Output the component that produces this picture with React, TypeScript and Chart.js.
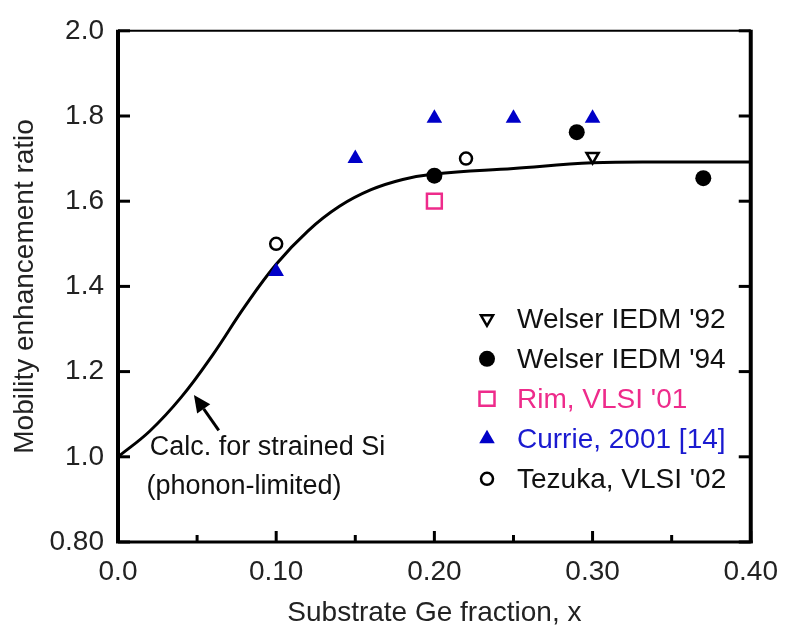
import React, { useEffect, useRef } from 'react';
import { Chart, registerables } from 'chart.js';

Chart.register(...registerables);

const FONT = "'Liberation Sans', Arial, Helvetica, sans-serif";

// Calculated curve (strained Si, phonon-limited)
const curveX = [0, 0.02, 0.04, 0.06, 0.08, 0.1, 0.12, 0.14, 0.16, 0.18, 0.2, 0.25, 0.3, 0.35, 0.4];
const curveY = [1.0, 1.06, 1.14, 1.24, 1.352, 1.452, 1.53, 1.588, 1.627, 1.651, 1.664, 1.677, 1.69, 1.692, 1.692];

// Experimental data
const welser92X = [0.3];
const welser92Y = [1.705];
const welser94X = [0.2, 0.29, 0.37];
const welser94Y = [1.66, 1.762, 1.654];
const rimX = [0.2];
const rimY = [1.6];
const currieX = [0.1, 0.15, 0.2, 0.25, 0.3];
const currieY = [1.435, 1.7, 1.795, 1.795, 1.795];
const tezukaX = [0.1, 0.22];
const tezukaY = [1.5, 1.7];

// Axis ticks
const xMajorTicks = [0, 0.1, 0.2, 0.3, 0.4];
const xMinorTicks = [0.05, 0.15, 0.25, 0.35];
const yMajorTicks = [0.8, 1.0, 1.2, 1.4, 1.6, 1.8, 2.0];

const legendLabels = ["Welser IEDM '92", "Welser IEDM '94", "Rim, VLSI '01", 'Currie, 2001 [14]', "Tezuka, VLSI '02"];
const legendColors = ['#111111', '#111111', '#ee2b8b', '#1a1ad0', '#111111'];

const PINK = '#ee2b8b';
const BLUE = '#0000c8';

const pts = (xs: number[], ys: number[]) => xs.map((x, i) => ({ x, y: ys[i] }));

function drawSymbol(ctx: CanvasRenderingContext2D, kind: number, x: number, y: number) {
  ctx.save();
  ctx.lineWidth = 2.5;
  if (kind === 0) {
    const r = 7;
    ctx.beginPath();
    ctx.moveTo(x, y + r);
    ctx.lineTo(x - r * 0.866, y - r / 2);
    ctx.lineTo(x + r * 0.866, y - r / 2);
    ctx.closePath();
    ctx.fillStyle = '#fff';
    ctx.fill();
    ctx.strokeStyle = '#000';
    ctx.stroke();
  } else if (kind === 1) {
    ctx.beginPath();
    ctx.arc(x, y, 8, 0, Math.PI * 2);
    ctx.fillStyle = '#000';
    ctx.fill();
  } else if (kind === 2) {
    ctx.strokeStyle = PINK;
    ctx.fillStyle = '#fff';
    ctx.beginPath();
    ctx.rect(x - 7.5, y - 7, 15, 14);
    ctx.fill();
    ctx.stroke();
  } else if (kind === 3) {
    const r = 9;
    ctx.beginPath();
    ctx.moveTo(x, y - r);
    ctx.lineTo(x - r * 0.866, y + r / 2);
    ctx.lineTo(x + r * 0.866, y + r / 2);
    ctx.closePath();
    ctx.fillStyle = BLUE;
    ctx.fill();
  } else {
    ctx.beginPath();
    ctx.arc(x, y, 6, 0, Math.PI * 2);
    ctx.fillStyle = '#fff';
    ctx.fill();
    ctx.strokeStyle = '#000';
    ctx.stroke();
  }
  ctx.restore();
}

export default function App() {
  const ref = useRef<HTMLCanvasElement>(null);

  useEffect(() => {
    const canvas = ref.current;
    if (!canvas) return;

    const framePlugin = {
      id: 'framePlugin',
      afterDatasetsDraw(chart: any) {
        const { ctx, chartArea } = chart;
        const { left, right, top, bottom } = chartArea;
        const xs = chart.scales.x;
        const ys = chart.scales.y;
        ctx.save();
        ctx.strokeStyle = '#000';
        ctx.lineCap = 'butt';
        // frame
        ctx.lineWidth = 2;
        ctx.beginPath();
        ctx.moveTo(left, top);
        ctx.lineTo(right, top);
        ctx.stroke();
        ctx.lineWidth = 3;
        ctx.beginPath();
        ctx.moveTo(left - 2, bottom);
        ctx.lineTo(right + 2, bottom);
        ctx.stroke();
        ctx.lineWidth = 4;
        ctx.beginPath();
        ctx.moveTo(left, top - 1);
        ctx.lineTo(left, bottom + 1);
        ctx.stroke();
        ctx.beginPath();
        ctx.moveTo(right, top - 1);
        ctx.lineTo(right, bottom + 1);
        ctx.stroke();
        // ticks
        ctx.lineWidth = 3;
        xMajorTicks.forEach((v) => {
          const px = xs.getPixelForValue(v);
          ctx.beginPath();
          ctx.moveTo(px, bottom);
          ctx.lineTo(px, bottom - 11);
          ctx.stroke();
        });
        xMinorTicks.forEach((v) => {
          const px = xs.getPixelForValue(v);
          ctx.beginPath();
          ctx.moveTo(px, bottom);
          ctx.lineTo(px, bottom - 7);
          ctx.stroke();
        });
        yMajorTicks.forEach((v) => {
          const py = ys.getPixelForValue(v);
          ctx.beginPath();
          ctx.moveTo(left, py);
          ctx.lineTo(left + 12, py);
          ctx.stroke();
          ctx.beginPath();
          ctx.moveTo(right, py);
          ctx.lineTo(right - 12, py);
          ctx.stroke();
        });

        // annotation arrow
        const tipX = xs.getPixelForValue(0.048);
        const tipY = ys.getPixelForValue(1.145);
        const tailX = xs.getPixelForValue(0.0637);
        const tailY = ys.getPixelForValue(1.062);
        const ang = Math.atan2(tipY - tailY, tipX - tailX);
        const headLen = 17;
        const headW = 8;
        const baseX = tipX - headLen * Math.cos(ang);
        const baseY = tipY - headLen * Math.sin(ang);
        ctx.lineWidth = 3;
        ctx.beginPath();
        ctx.moveTo(tailX, tailY);
        ctx.lineTo(baseX, baseY);
        ctx.stroke();
        ctx.fillStyle = '#000';
        ctx.beginPath();
        ctx.moveTo(tipX, tipY);
        ctx.lineTo(baseX + headW * Math.sin(ang), baseY - headW * Math.cos(ang));
        ctx.lineTo(baseX - headW * Math.sin(ang), baseY + headW * Math.cos(ang));
        ctx.closePath();
        ctx.fill();

        // annotation text
        ctx.font = `27px ${FONT}`;
        ctx.fillStyle = '#111';
        ctx.textAlign = 'left';
        ctx.textBaseline = 'middle';
        ctx.fillText('Calc. for strained Si', xs.getPixelForValue(0.02), ys.getPixelForValue(1.021));
        ctx.fillText('(phonon-limited)', xs.getPixelForValue(0.018), ys.getPixelForValue(0.93));

        // legend
        const symX = left + 369;
        const textX = left + 399;
        legendLabels.forEach((lab, i) => {
          const yy = top + 288 + i * 40;
          drawSymbol(ctx, i, symX, yy);
          ctx.fillStyle = legendColors[i];
          ctx.font = `28px ${FONT}`;
          ctx.fillText(lab, textX, yy + 1);
        });
        ctx.restore();
      },
    };

    const chart = new Chart(canvas, {
      type: 'scatter',
      data: {
        datasets: [
          {
            label: 'Calc. for strained Si',
            data: pts(curveX, curveY),
            showLine: true,
            borderColor: '#000',
            borderWidth: 3,
            pointRadius: 0,
            tension: 0.4,
            fill: false,
            order: 10,
          } as any,
          {
            label: legendLabels[0],
            data: pts(welser92X, welser92Y),
            pointStyle: 'triangle',
            rotation: 180,
            pointRadius: 7,
            borderColor: '#000',
            backgroundColor: '#fff',
            borderWidth: 2.5,
            pointBorderWidth: 2.5,
            order: 1,
          } as any,
          {
            label: legendLabels[1],
            data: pts(welser94X, welser94Y),
            pointStyle: 'circle',
            pointRadius: 8,
            borderColor: '#000',
            backgroundColor: '#000',
            borderWidth: 0,
            order: 1,
          } as any,
          {
            label: legendLabels[2],
            data: pts(rimX, rimY),
            pointStyle: 'rect',
            pointRadius: 10.5,
            borderColor: PINK,
            backgroundColor: '#fff',
            borderWidth: 2.5,
            order: 1,
          } as any,
          {
            label: legendLabels[3],
            data: pts(currieX, currieY),
            pointStyle: 'triangle',
            pointRadius: 9,
            borderColor: BLUE,
            backgroundColor: BLUE,
            borderWidth: 0,
            order: 1,
          } as any,
          {
            label: legendLabels[4],
            data: pts(tezukaX, tezukaY),
            pointStyle: 'circle',
            pointRadius: 6,
            borderColor: '#000',
            backgroundColor: '#fff',
            borderWidth: 2.5,
            order: 1,
          } as any,
        ],
      },
      options: {
        responsive: false,
        animation: false,
        layout: { padding: { top: 30, right: 32, left: 0, bottom: 0 } },
        plugins: { legend: { display: false }, tooltip: { enabled: false } },
        scales: {
          x: {
            type: 'linear',
            min: 0,
            max: 0.4,
            afterFit: (s: any) => {
              s.height = 90;
            },
            afterBuildTicks: (s: any) => {
              s.ticks = xMajorTicks.map((v) => ({ value: v }));
            },
            ticks: {
              stepSize: 0.1,
              autoSkip: false,
              maxRotation: 0,
              padding: 13,
              color: '#222',
              font: { family: FONT, size: 28 },
              callback: (v: any) => (Number(v) === 0 ? '0.0' : Number(v).toFixed(2)),
            },
            grid: { display: false, drawTicks: false },
            border: { display: false },
            title: {
              display: true,
              text: 'Substrate Ge fraction, x',
              color: '#222',
              font: { family: FONT, size: 28 },
              padding: { top: 0, bottom: 2 },
            },
          },
          y: {
            type: 'linear',
            min: 0.8,
            max: 2.0,
            afterFit: (s: any) => {
              s.width = 118;
            },
            afterBuildTicks: (s: any) => {
              s.ticks = yMajorTicks.map((v) => ({ value: v }));
            },
            ticks: {
              stepSize: 0.2,
              autoSkip: false,
              padding: 14,
              color: '#222',
              font: { family: FONT, size: 28 },
              callback: (v: any) => (Math.abs(Number(v) - 0.8) < 1e-6 ? '0.80' : Number(v).toFixed(1)),
            },
            grid: { display: false, drawTicks: false },
            border: { display: false },
            title: {
              display: true,
              text: 'Mobility enhancement ratio',
              color: '#222',
              font: { family: FONT, size: 28 },
              padding: { top: 8, bottom: 0 },
            },
          },
        },
      } as any,
      plugins: [framePlugin],
    });

    return () => chart.destroy();
  }, []);

  return (
    <div style={{ position: 'absolute', left: 0, top: 0, width: 791, height: 632, background: '#fff' }}>
      <canvas ref={ref} width={791} height={632} style={{ width: 791, height: 632, display: 'block' }} />
    </div>
  );
}
